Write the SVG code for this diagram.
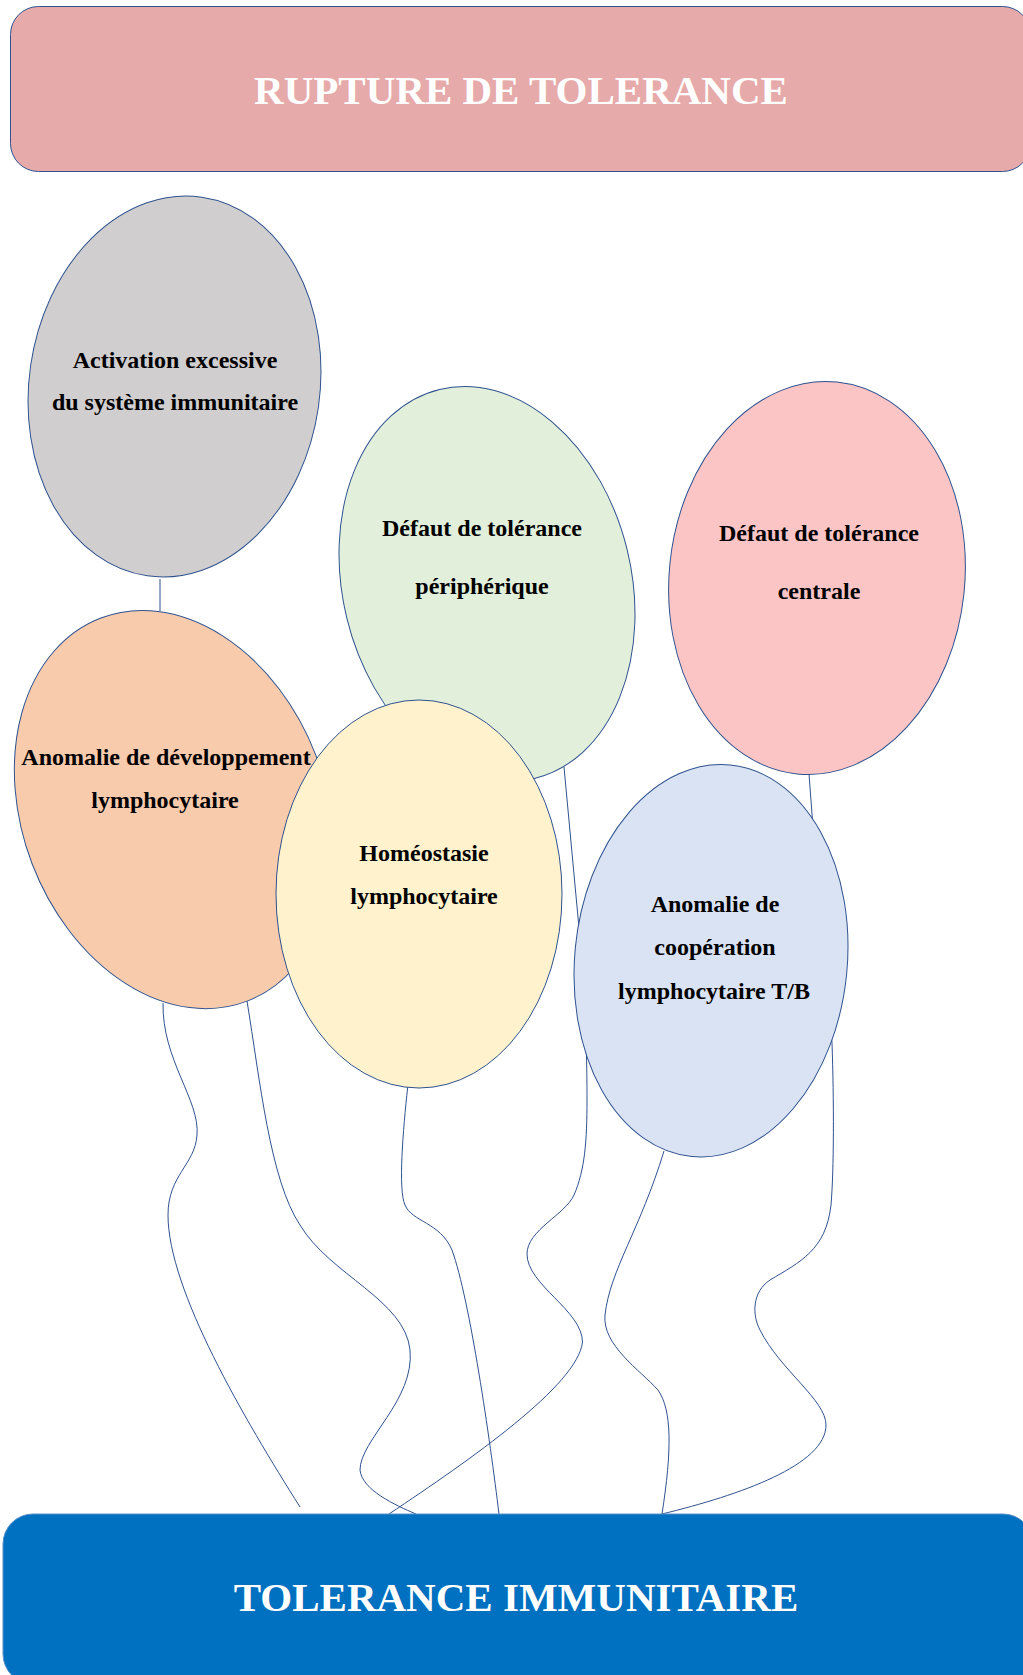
<svg xmlns="http://www.w3.org/2000/svg" width="1023" height="1675" viewBox="0 0 1023 1675">
<style>
.c{fill:none;stroke:#2F528F;stroke-width:1}
.e{stroke:#2F528F;stroke-width:1}
.t{font-family:"Liberation Serif","Times New Roman",serif;font-weight:bold;font-size:24px;fill:#000;text-anchor:middle}
.h{font-family:"Liberation Serif","Times New Roman",serif;font-weight:bold;font-size:41px;fill:#fff;text-anchor:middle}
</style>
<rect width="1023" height="1675" fill="#fff"/>
<g id="connectors">
<path class="c" d="M160,579 L160,611"/>
<path class="c" d="M163,1003 C162,1060 200,1100 197,1135 C195,1165 168,1175 168,1215 C168,1290 245,1420 300,1507"/>
<path class="c" d="M247,1001 C260,1080 270,1180 300,1225 C330,1275 405,1300 410,1350 C415,1400 360,1440 360,1470 C362,1490 395,1505 416,1514"/>
<path class="c" d="M407.7,1087 C403,1130 398,1190 405,1205 C412,1222 440,1222 452,1250 C470,1300 490,1440 499,1514"/>
<path class="c" d="M564,767 L579,928 L586,1039 C587,1070 587,1090 587,1100 C587,1140 585,1170 574,1195 C565,1215 527,1230 527,1254 C527,1285 582,1310 582.5,1342 C578,1385 470,1460 389,1514"/>
<path class="c" d="M664,1151 C640,1230 610,1270 605,1315 C602,1345 640,1370 658,1390 C672,1410 672,1450 662,1514"/>
<path class="c" d="M809,774 L812,814 L832,1043 C834,1100 834,1170 831,1205 C826,1250 800,1262 770,1280 C752,1292 752,1315 760,1330 C780,1370 826,1400 826,1425 C826,1465 740,1495 662,1514"/>
</g>
<g id="top">
<rect x="10.5" y="6.5" width="1020" height="165" rx="28" fill="#E6AAAA" class="e"/>
<text class="h" x="521" y="104">RUPTURE DE TOLERANCE</text>
</g>
<g id="activation">
<ellipse cx="174.5" cy="386.5" rx="145.4" ry="191.3" transform="rotate(8.2 174.5 386.5)" fill="#D0CECE" class="e"/>
<text class="t" x="175" y="368">Activation excessive</text>
<text class="t" x="175" y="410">du système immunitaire</text>
</g>
<g id="peripherique">
<ellipse cx="487" cy="584" rx="144.3" ry="200.2" transform="rotate(-13.7 487 584)" fill="#E2EFDA" class="e"/>
<text class="t" x="482" y="536">Défaut de tolérance</text>
<text class="t" x="482" y="594">périphérique</text>
</g>
<g id="centrale">
<ellipse cx="817" cy="578" rx="147.8" ry="196.9" transform="rotate(5.8 817 578)" fill="#FBC5C6" class="e"/>
<text class="t" x="819" y="541">Défaut de tolérance</text>
<text class="t" x="819" y="599">centrale</text>
</g>
<g id="developpement">
<ellipse cx="174" cy="809.6" rx="151.9" ry="205" transform="rotate(-20.9 174 809.6)" fill="#F8CBAD" class="e"/>
<text class="t" x="166" y="765">Anomalie de développement</text>
<text class="t" x="165" y="808">lymphocytaire</text>
</g>
<g id="homeostasie">
<ellipse cx="419" cy="894" rx="143" ry="194" fill="#FFF2CC" class="e"/>
<text class="t" x="424" y="861">Homéostasie</text>
<text class="t" x="424" y="904">lymphocytaire</text>
</g>
<g id="cooperation">
<ellipse cx="711" cy="960.7" rx="136.3" ry="196.7" transform="rotate(5.6 711 960.7)" fill="#DAE3F3" class="e"/>
<text class="t" x="715" y="912">Anomalie de</text>
<text class="t" x="715" y="955">coopération</text>
<text class="t" x="714" y="999">lymphocytaire T/B</text>
</g>
<g id="bottom">
<rect x="3" y="1514" width="1030" height="170" rx="30" fill="#0070C0" stroke="#5B8FC9" stroke-width="1"/>
<text class="h" x="516" y="1611">TOLERANCE IMMUNITAIRE</text>
</g>
</svg>
